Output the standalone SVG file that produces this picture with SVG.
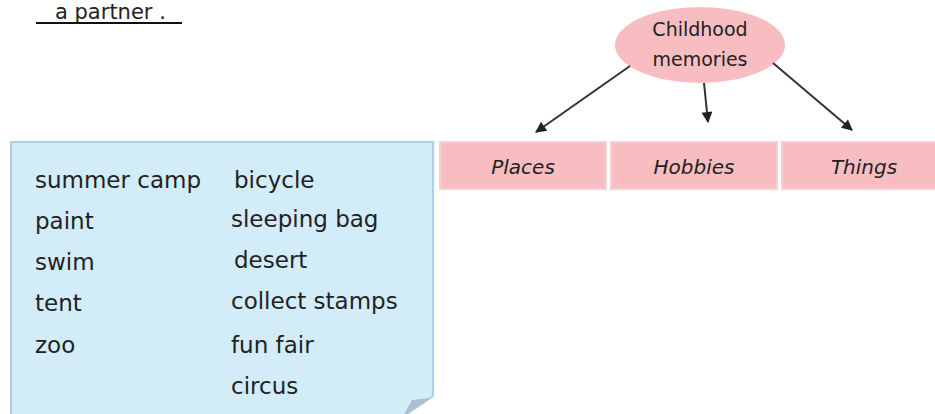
<svg xmlns="http://www.w3.org/2000/svg" width="935" height="414" viewBox="0 0 935 414">
<defs>
<marker id="ah" viewBox="0 0 10 10" refX="9" refY="5" markerWidth="12" markerHeight="11" markerUnits="userSpaceOnUse" orient="auto">
<path d="M0,0 L10,5 L0,10 Z" fill="#222"/>
</marker>
<style>
.t{font-family:"DejaVu Sans",sans-serif;font-size:23px;fill:#222;}
.lbl{font-family:"DejaVu Sans",sans-serif;font-size:20px;font-style:italic;fill:#222;text-anchor:middle;}
.box{fill:#f8bdc1;stroke:#f6d0d3;stroke-width:2;}
.conn{stroke:#333;stroke-width:2;fill:none;marker-end:url(#ah);}
</style>
</defs>
<rect width="935" height="414" fill="#fff"/>
<g id="header">
<text x="55" y="19" class="t" style="font-size:21px">a partner .</text>
<line x1="36" y1="23" x2="182" y2="23" stroke="#111" stroke-width="2"/>
</g>
<g id="note">
<path d="M11,142 L433,142 L433,396 L404,416 L11,416 Z" fill="#d3ecf9" stroke="#a9cfe9" stroke-width="2"/>
<path d="M403,416 L412,400 L431,398 Z" fill="#a9bfd2"/>
<text class="t" x="35" y="188">summer camp</text>
<text class="t" x="35" y="229">paint</text>
<text class="t" x="35" y="270">swim</text>
<text class="t" x="35" y="311">tent</text>
<text class="t" x="35" y="353">zoo</text>
<text class="t" x="234" y="188">bicycle</text>
<text class="t" x="231" y="227">sleeping bag</text>
<text class="t" x="234" y="268">desert</text>
<text class="t" x="231" y="309">collect stamps</text>
<text class="t" x="231" y="353">fun fair</text>
<text class="t" x="231" y="394">circus</text>
</g>
<g id="root">
<ellipse cx="700" cy="45" rx="85" ry="38" fill="#f8bdc1"/>
<text x="700" y="36" class="lbl" style="font-style:normal;font-size:19px">Childhood</text>
<text x="700" y="66" class="lbl" style="font-style:normal;font-size:19px">memories</text>
</g>
<g id="places">
<rect x="440" y="142" width="166" height="47" class="box"/>
<text x="523" y="174" class="lbl">Places</text>
</g>
<g id="hobbies">
<rect x="611" y="142" width="166" height="47" class="box"/>
<text x="694" y="174" class="lbl">Hobbies</text>
</g>
<g id="things">
<rect x="782" y="142" width="160" height="47" class="box"/>
<text x="864" y="174" class="lbl">Things</text>
</g>
<g id="connectors">
<line x1="630" y1="66" x2="536" y2="132" class="conn"/>
<line x1="704" y1="83" x2="708" y2="122" class="conn"/>
<line x1="773" y1="63" x2="852" y2="130" class="conn"/>
</g>
</svg>
